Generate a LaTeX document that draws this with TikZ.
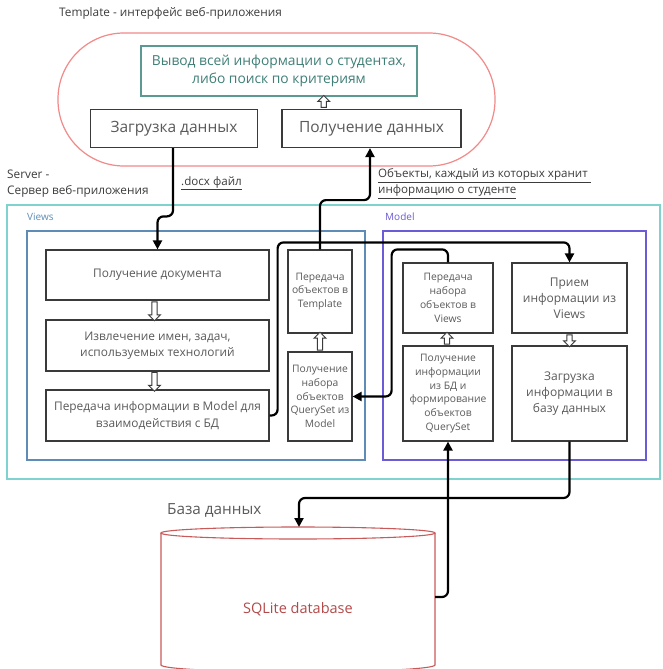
\documentclass[tikz,border=0pt]{standalone}
\usepackage{fontspec}
\setmainfont{Open Sans}
\usetikzlibrary{arrows.meta,shapes.arrows,calc}
\definecolor{pillred}{HTML}{F28A8A}
\definecolor{tealbox}{HTML}{5A9A92}
\definecolor{tealtext}{HTML}{3F7F77}
\definecolor{servercyan}{HTML}{7ED3CE}
\definecolor{viewsblue}{HTML}{5E8CB4}
\definecolor{modelpurple}{HTML}{6A5CD6}
\definecolor{boxgray}{HTML}{3A3A3A}
\definecolor{textgray}{HTML}{5A5A5A}
\definecolor{labelgray}{HTML}{3C3C3C}
\definecolor{dbred}{HTML}{C85A5A}
\definecolor{dbtext}{HTML}{B24A4A}
\tikzset{
  box/.style={draw=boxgray, line width=1.2pt, fill=white, align=center, text=textgray, inner sep=1pt},
  smallbox/.style={box, font=\fontsize{10.3}{13.8}\selectfont},
  conn/.style={line width=2.2pt, black, rounded corners=6pt, -{Triangle[length=9pt,width=9pt]}},
  hollow/.style={single arrow, draw=boxgray, fill=white, line width=0.9pt, inner sep=2.2pt,
    single arrow head extend=3.3pt, single arrow head indent=0pt, minimum height=#1},
  lbl/.style={inner sep=0pt, anchor=west, text=labelgray},
}
\begin{document}
\begin{tikzpicture}[x=1pt,y=-1pt]
\useasboundingbox (0,0) rectangle (662,669);
\clip (0,0) rectangle (662,669);
\fill[white] (0,0) rectangle (662,669);

% Template part
\node[lbl, font=\fontsize{11.8}{13}\selectfont] (ttitle) at (59,13) {Template - интерфейс веб-приложения};
\node[draw=pillred, line width=1.2pt, rounded corners=66pt, minimum width=437pt, minimum height=133pt] (pill) at (276.5,99.5) {};
\node[box, draw=tealbox, text=tealtext, minimum width=276pt, minimum height=50pt,
  font=\fontsize{13.8}{18.5}\selectfont] (tbox) at (279,71) {Вывод всей информации о студентах,\\либо поиск по критериям};
\node[box, minimum width=167pt, minimum height=38pt, font=\fontsize{15.5}{17}\selectfont] (load) at (174,128.5) {Загрузка данных};
\node[box, minimum width=179pt, minimum height=38pt, font=\fontsize{15.5}{17}\selectfont] (recv) at (371.5,128.5) {Получение данных};

% Server
\node[lbl, align=left, font=\fontsize{11.8}{16}\selectfont] (stitle) at (7,183.5) {Server -\\Сервер веб-приложения};
\node[draw=servercyan, line width=1.5pt, minimum width=653pt, minimum height=274pt] (server) at (333.5,342) {};
\node[draw=viewsblue, line width=1.3pt, minimum width=338pt, minimum height=229pt] (views) at (196,345.5) {};
\node[draw=modelpurple, line width=1.3pt, minimum width=263pt, minimum height=229pt] (model) at (514.5,345.5) {};
\node[lbl, text=viewsblue, font=\fontsize{10}{12}\selectfont] (vtitle) at (27,217) {Views};
\node[lbl, text=modelpurple, font=\fontsize{10}{12}\selectfont] (mtitle) at (385,217) {Model};

% Views boxes
\node[box, minimum width=223pt, minimum height=50pt, font=\fontsize{11.9}{16.5}\selectfont] (v1) at (157.5,275) {Получение документа};
\node[box, minimum width=223pt, minimum height=51pt, font=\fontsize{11.9}{16.5}\selectfont] (v2) at (157.5,345.5) {Извлечение имен, задач,\\используемых технологий};
\node[box, minimum width=223pt, minimum height=51pt, font=\fontsize{11.9}{16.5}\selectfont] (v3) at (157.5,415.5) {Передача информации в Model для\\взаимодействия с БД};
\node[smallbox, minimum width=64pt, minimum height=83pt] (v4) at (320,291.5) {Передача\\объектов в\\Template};
\node[smallbox, minimum width=64pt, minimum height=89pt] (v5) at (320,396.5) {Получение\\набора\\объектов\\QuerySet из\\Model};

% Model boxes
\node[smallbox, minimum width=90pt, minimum height=70pt] (m1) at (448,298) {Передача\\набора\\объектов в\\Views};
\node[smallbox, minimum width=90pt, minimum height=95pt] (m2) at (448,393.5) {Получение\\информации\\из БД и\\формирование\\объектов\\QuerySet};
\node[box, minimum width=115pt, minimum height=70pt, font=\fontsize{12}{16}\selectfont] (m3) at (569.5,298) {Прием\\информации из\\Views};
\node[box, minimum width=115pt, minimum height=95pt, font=\fontsize{12}{16}\selectfont] (m4) at (569.5,393.5) {Загрузка\\информации в\\базу данных};

% Database
\node[lbl, text=textgray, font=\fontsize{15.3}{17}\selectfont] (dbtitle) at (167,510) {База данных};
\draw[dbred, line width=1.1pt, fill=white] (161,533) -- (161,665) arc[start angle=180, end angle=0, x radius=137, y radius=7] -- (435,533);
\draw[dbred, line width=1.1pt] (298,533) ellipse[x radius=137, y radius=6];
\node[inner sep=0pt, text=dbtext, font=\fontsize{14.5}{16}\selectfont] (db) at (298,609) {SQLite database};
\coordinate (dbtop) at (299,527);
\coordinate (dbright) at (435,597);

% connector labels
\node[lbl, font=\fontsize{11.6}{13}\selectfont] (docx) at (181,183) {\underline{.docx файл}};
\node[lbl, align=left, font=\fontsize{11.6}{16}\selectfont] (objs) at (378,183.5) {\underline{Объекты, каждый из которых хранит }\\\underline{информацию о студенте}};

% hollow arrows
\node[hollow=19pt, shape border rotate=270] (h1) at ($(v1.south)!0.5!(v2.north)+(-3,0)$) {};
\node[hollow=19pt, shape border rotate=270] (h2) at ($(v2.south)!0.5!(v3.north)+(-3,0)$) {};
\node[hollow=18pt, shape border rotate=90] (h3) at ($(v5.north)!0.5!(v4.south)$) {};
\node[hollow=12pt, shape border rotate=90] (h4) at ($(m2.north)!0.5!(m1.south)+(-1,0)$) {};
\node[hollow=12pt, shape border rotate=270] (h5) at ($(m3.south)!0.5!(m4.north)$) {};
\node[hollow=12pt, shape border rotate=90] (h6) at ($(recv.north)!0.5!(tbox.south)+(-1.5,0)$) {};

% connectors
\draw[conn] (load.south -| 173,0) |- ($(v1.north)+(0,-33)$) -- (v1.north);
\draw[conn] (v4.north) |- ($(recv.south)+(-1.5,52)$) -- ($(recv.south)+(-1.5,0)$);
\draw[conn] (v3.east) -- ++(8,0) |- ($(m3.north)+(0,-20)$) -- (m3.north);
\draw[conn] (m1.north) -- ++(0,-13) -| ($(v5.east)+(39,0)$) -- (v5.east);
\draw[conn] (dbright) -| (m2.south);
\draw[conn] (m4.south) |- ($(dbtop)+(0,-29)$) -- (dbtop);
\end{tikzpicture}
\end{document}
